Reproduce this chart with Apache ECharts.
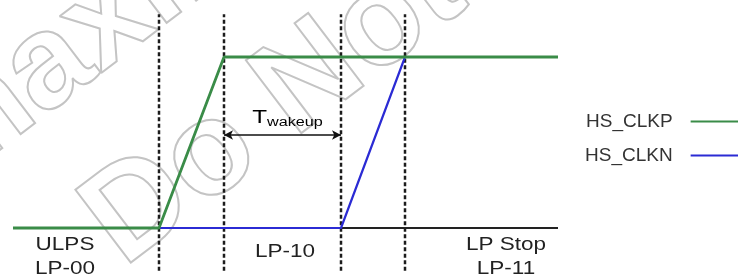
<!DOCTYPE html>
<html><head><meta charset="utf-8">
<script src="https://cdn.jsdelivr.net/npm/echarts@6/dist/echarts.min.js"></script>
<style>html,body{margin:0;padding:0;background:#fff}#c{width:738px;height:280px}</style>
</head><body><div id="c"></div>
<script>
// Timing diagram data (time units along x, logic level on y)
const clkpT = [0, 146, 211, 545];
const clkpV = [0, 0, 1, 1];
const clknT = [146, 328, 392, 545];
const clknV = [0, 0, 1, 1];
const baseT = [0, 545];
const baseV = [0, 0];
const phaseT = [146, 211, 328, 392];
const stateT = [52, 272, 493];
const stateTop = ['ULPS', 'LP-10', 'LP Stop'];
const stateBottom = ['LP-00', '', 'LP-11'];
const wakeT = [211, 328];
const wakeV = 0.544;
const seriesNames = ['HS_CLKP', 'HS_CLKN'];

const FONT = 'Liberation Sans';
const chart = echarts.init(document.getElementById('c'));

const zip = (xs, ys) => xs.map((x, i) => [x, ys[i]]);

const dashSeries = phaseT.map((t, i) => ({
  type: 'line', name: 'phase' + i, silent: true, symbol: 'none', z: 1,
  data: [[t, -0.25], [t, 1.25]],
  lineStyle: { color: '#1c1c1c', width: 2.5, type: [4, 2.5] }
}));

chart.setOption({
  animation: false,
  backgroundColor: '#fff',
  grid: { left: 13, right: 180, top: 14.25, bottom: 9.25 },
  xAxis: { type: 'value', min: 0, max: 545, show: false },
  yAxis: { type: 'value', min: -0.25, max: 1.25, show: false },
  legend: {
    data: seriesNames.map(n => ({ name: n, icon: 'rect' })),
    orient: 'vertical', align: 'right', left: 580, top: 107,
    itemWidth: 55, itemHeight: 2, itemGap: 15,
    textStyle: { fontFamily: FONT, fontSize: 19, color: '#333', padding: [0, 13, 0, 0] }
  },
  series: [
    { type: 'line', name: 'base', silent: true, symbol: 'none', z: 2,
      data: zip(baseT, baseV), lineStyle: { color: '#222', width: 2 } },
    ...dashSeries,
    { type: 'line', name: seriesNames[1], symbol: 'none', z: 3,
      data: zip(clknT, clknV), color: '#2b2bd4', lineStyle: { color: '#2b2bd4', width: 2.2 } },
    { type: 'line', name: seriesNames[0], symbol: 'none', z: 4,
      data: zip(clkpT, clkpV), color: '#3a8c48', lineStyle: { color: '#3a8c48', width: 2.8 },
      markLine: {
        silent: true, symbol: ['arrow', 'arrow'], symbolSize: [7, 9],
        label: { show: false },
        lineStyle: { color: '#111', width: 1.5, type: 'solid' },
        data: [[{ coord: [wakeT[0], wakeV] }, { coord: [wakeT[1], wakeV] }]]
      }
    }
  ]
});

const px = (t, v) => chart.convertToPixel({ gridIndex: 0 }, [t, v]);
const graphics = [];
// watermark (outlined, centred on given point)
const wm = (text, x, y, rot, size) => ({
  type: 'text', x: x, y: y, rotation: rot, z: -10, silent: true,
  style: { text: text, font: 'bold ' + size + 'px ' + FONT, fill: 'rgba(0,0,0,0)',
           stroke: '#c4c4c4', lineWidth: 2, align: 'center', verticalAlign: 'middle' }
});
graphics.push(wm('maxim', 93, 33, 0.65, 133));
graphics.push(wm('Do Not', 275, 107, 0.65, 133));

stateT.forEach((t, i) => {
  const p = px(t, 0);
  graphics.push({ type: 'text', x: p[0], y: i === 1 ? 252 : 245, scaleX: 1.25, z: 10,
    style: { text: stateTop[i], font: '18px ' + FONT, fill: '#222', align: 'center', verticalAlign: 'middle' } });
  if (stateBottom[i]) graphics.push({ type: 'text', x: p[0], y: 269, scaleX: 1.25, z: 10,
    style: { text: stateBottom[i], font: '18px ' + FONT, fill: '#222', align: 'center', verticalAlign: 'middle' } });
});

const w0 = px(wakeT[0], wakeV), w1 = px(wakeT[1], wakeV);
graphics.push({ type: 'text', x: (w0[0] + w1[0]) / 2 + 5, y: w0[1] - 17, scaleX: 1.35, z: 10,
  style: { text: '{t|T}{s|wakeup}', align: 'center', verticalAlign: 'middle',
    rich: { t: { fontFamily: FONT, fontSize: 18, color: '#222', verticalAlign: 'bottom' },
            s: { fontFamily: FONT, fontSize: 12, color: '#222', verticalAlign: 'bottom', padding: [0, 0, -2, 0] } } } });

chart.setOption({ graphic: graphics });
</script></body></html>
